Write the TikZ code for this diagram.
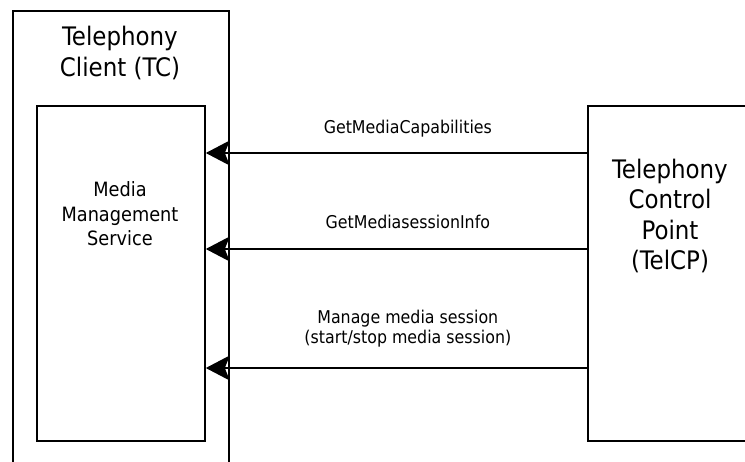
\documentclass[tikz,border=0pt]{standalone}
\usepackage{fontspec}
\setmainfont{DejaVu Sans Condensed}
\usetikzlibrary{positioning}
\usetikzlibrary{arrows.meta}

\begin{document}
\begin{tikzpicture}[x=1pt, y=-1pt,
    box/.style={draw, line width=1.8pt, inner sep=0pt},
    bigtext/.style={align=center, font=\fontsize{25.5}{30.5}\selectfont},
    smalltext/.style={align=center, inner sep=0pt, text depth=0pt, font=\fontsize{17.6}{20}\selectfont},
    msg/.style={-{Stealth[length=24pt, width=25pt, inset=5pt]}, line width=1.4pt}]
    % Frame
    \clip (0,0) rectangle (745,461);
    \useasboundingbox (0,0) rectangle (745,461);

    % Nodes
    \node[box, minimum width=216pt, minimum height=480pt, anchor=north west] (tc) at (12,10) {};
    \node[bigtext] (tctitle) at (120,53) {Telephony\\Client (TC)};

    \node[box, minimum width=168pt, minimum height=335pt, anchor=north west] (mms) at (36,105) {};
    \node[smalltext, font=\fontsize{19.7}{24.5}\selectfont] (mmstitle) at (120,214) {Media\\Management\\Service};

    \node[box, minimum width=200pt, minimum height=335pt, anchor=north west] (telcp) at (587,105) {};
    \node[bigtext] (telcptitle) at (670,216) {Telephony\\Control\\Point\\(TelCP)};

    % Arrows
    \coordinate (caps) at (0,153);
    \coordinate (info) at (0,249);
    \coordinate (manage) at (0,368);
    \draw[msg] (telcp.west |- caps) -- node[smalltext, above=19pt, pos=0.47] {GetMediaCapabilities} (mms.east |- caps);
    \draw[msg] (telcp.west |- info) -- node[smalltext, above=20pt, pos=0.47] {GetMediasessionInfo} (mms.east |- info);
    \draw[msg] (telcp.west |- manage) -- node[smalltext, above=24pt, pos=0.47] {Manage media session\\(start/stop media session)} (mms.east |- manage);
\end{tikzpicture}
\end{document}
